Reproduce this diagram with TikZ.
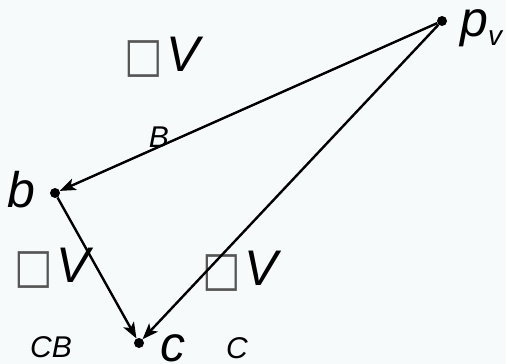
\documentclass[tikz,border=0pt]{standalone}
\usepackage{fontspec}
\setmainfont{Liberation Sans}
\newfontfamily\boxfont{DejaVu Sans}
\usetikzlibrary{arrows.meta}
\definecolor{bgpale}{RGB}{246,250,251}
\definecolor{boxgray}{RGB}{85,85,85}
\newcommand{\missbox}{{\boxfont\color{boxgray}\fontsize{48}{48}\selectfont\scalebox{0.85}[1]{□}}}
\tikzset{
  dot/.style={circle,fill=black,inner sep=0pt,minimum size=10pt},
  biglbl/.style={inner sep=0pt,anchor=base,font=\fontsize{50}{50}\selectfont\itshape},
  smalllbl/.style={inner sep=0pt,anchor=base,font=\fontsize{30}{30}\selectfont\itshape},
  arr/.style={-{Stealth[length=16pt,width=12pt,inset=4pt]},line width=2.4pt}
}
\begin{document}
\begin{tikzpicture}[x=1pt,y=-1pt]
\fill[bgpale] (0,0) rectangle (506,364);
\useasboundingbox (0,0) rectangle (506,364);
% points
\node[dot] (pv) at (442,21) {};
\node[dot] (b) at (55,193) {};
\node[dot] (c) at (139,343) {};
% point labels
\node[biglbl,anchor=base west] (pvlbl) at (460,36) {p\raisebox{-9pt}{\fontsize{28}{28}\selectfont v}};
\node[biglbl] (blbl) at (21,207) {b};
\node[biglbl] (clbl) at (173,361) {c};
% velocity labels
\node[biglbl] (dvtop) at (162,71) {\missbox\hspace{4pt}V};
\node[biglbl] (dvleft) at (52,282) {\missbox\hspace{4pt}V};
\node[biglbl] (dvright) at (240,285) {\missbox\hspace{4pt}V};
\node[smalllbl] (blabel) at (159,147) {B};
\node[smalllbl] (cblabel) at (51,357) {CB};
\node[smalllbl] (clabel) at (237,358) {C};
% vectors
\draw[arr] (pv) -- (b);
\draw[arr] (b) -- (c);
\draw[arr] (pv) -- (c);
\end{tikzpicture}
\end{document}
